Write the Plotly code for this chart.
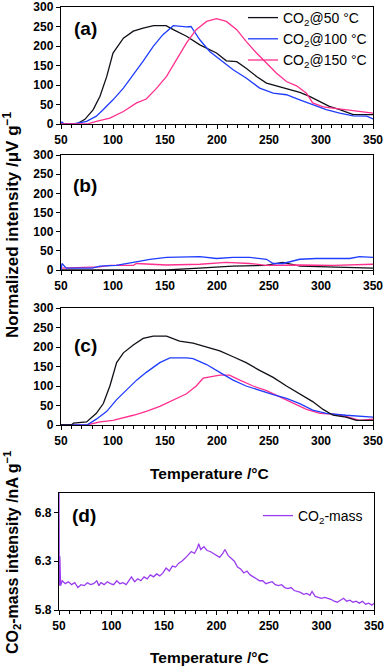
import plotly.graph_objects as go

# ---------------- data ----------------
# panel (a)
a50_t = [50, 65, 73, 81, 87.5, 94, 100, 102, 110, 119.5, 129, 139, 151, 158, 170.7, 183.5, 190, 199.5, 209, 219,
         228, 238, 247.6, 257, 270, 279.6, 289, 299, 308, 318, 331, 350]
a50_v = [0, 0, 12, 37, 71, 122, 182, 190, 220, 238, 246, 252, 252, 242, 225, 203, 195, 182, 162, 160,
         143, 122, 105, 98, 90, 81, 71, 58, 45, 37, 24, 24]
a100_t = [50, 51, 53, 62, 74.6, 84, 90.7, 100, 110, 119.5, 129, 138.7, 148, 158, 170.7, 175, 183.5, 193, 202.7, 215.5,
          228, 241, 254, 266.8, 279.6, 292, 305, 318, 331, 344, 350]
a100_v = [0, 5, 0, 0, 7, 20, 37, 62, 92, 126, 161, 199, 229, 252, 249, 250, 216, 186, 165, 139,
          118, 92, 79, 75, 62, 50, 37, 28, 21, 20, 13]
a150_t = [50, 75, 84, 97, 110, 122.7, 132, 142, 151.5, 161, 170.7, 180, 190, 199.5, 209, 219, 228, 238, 247.6, 257,
          266.8, 276.5, 286, 292, 302, 311.6, 324, 337, 350]
a150_v = [0, 0, 7, 15, 32, 54, 64, 92, 122, 165, 208, 242, 263, 270, 263, 242, 212, 182, 156, 131,
          109, 98, 79, 54, 44, 41, 37, 32, 28]

# panel (b)
b50_t = [50, 151.5, 183, 215, 247, 263, 280, 311, 350]
b50_v = [0, 0, 5, 10, 12, 20, 10, 8, 5]
b100_t = [50, 51, 55, 80, 87.5, 103, 119.5, 135.5, 151.5, 170.7, 183.5, 199.5, 215.5, 231.5, 247.6, 254, 263.5,
          279.6, 295.6, 311.6, 327.6, 337, 350]
b100_v = [0, 17, 5, 5, 10, 12, 20, 28, 33, 35, 35, 30, 33, 33, 28, 17, 17, 28, 30, 30, 30, 35, 33]
b150_t = [50, 87, 97, 119.5, 122.7, 151.5, 183.5, 209, 231.5, 247.6, 279.6, 311.6, 350]
b150_v = [5, 8, 12, 12, 17, 13, 15, 20, 17, 12, 13, 12, 15]

# panel (c)
c50_t = [50, 60, 62, 74.6, 84, 90.7, 97, 103.5, 110, 119.5, 129, 138.7, 151.5, 164, 177, 190, 202.7, 215.5, 228, 241,
         254, 266.8, 279.6, 292, 302, 311.6, 324, 334, 350]
c50_v = [0, 0, 5, 8, 30, 55, 100, 160, 185, 205, 222, 228, 228, 215, 210, 200, 190, 175, 160, 140,
         122, 100, 80, 60, 40, 25, 20, 12, 12]
c100_t = [50, 75, 84, 94, 103.5, 113, 122.7, 132, 145, 154.7, 170.7, 177, 190, 202.7, 215.5, 228, 241, 254, 266.8,
          279.6, 292, 305, 324, 340, 350]
c100_v = [0, 0, 15, 35, 65, 90, 115, 135, 160, 172, 172, 170, 155, 135, 115, 100, 90, 78, 68,
          55, 38, 30, 25, 22, 20]
c150_t = [50, 75, 87.5, 100, 119.5, 132, 145, 158, 170.7, 180, 186.7, 202.7, 212, 222, 234.7, 247.6, 260, 273, 286,
          299, 311.6, 324, 337, 350]
c150_v = [0, 0, 8, 12, 25, 35, 48, 65, 80, 100, 120, 128, 128, 115, 100, 88, 72, 55, 40,
          30, 28, 22, 12, 15]

# panel (d)
d_t = [50, 50.3, 50.8, 51.5, 53, 56, 59, 62, 65, 68, 71, 74, 77, 80, 83, 86, 88, 90, 93, 96, 99, 102, 105, 108, 111,
       114, 117, 119, 122, 125, 128, 131, 134, 137, 140, 143, 146, 149, 152, 155, 158, 161, 164, 167, 170, 173, 176,
       179, 182, 183, 185, 188, 191, 194, 197, 200, 203, 206, 208, 211, 214, 217, 220, 223, 226, 229, 232, 235, 238,
       241, 244, 247, 250, 253, 256, 259, 262, 265, 268, 271, 274, 277, 280, 283, 286, 289, 291, 294, 297, 300, 303,
       306, 309, 312, 315, 318, 321, 324, 327, 330, 333, 336, 339, 342, 345, 348, 350]
d_v = [7.0, 6.05, 6.35, 6.05, 6.1, 6.07, 6.09, 6.06, 6.08, 6.03, 6.06, 6.05, 6.08, 6.06, 6.07, 6.1, 6.05, 6.08, 6.06,
       6.09, 6.07, 6.06, 6.1, 6.07, 6.08, 6.06, 6.11, 6.14, 6.09, 6.12, 6.1, 6.14, 6.12, 6.16, 6.14, 6.17, 6.15, 6.18,
       6.23, 6.2, 6.25, 6.24, 6.28, 6.3, 6.33, 6.37, 6.4, 6.38, 6.44, 6.48, 6.42, 6.45, 6.41, 6.4, 6.38, 6.36, 6.34,
       6.38, 6.42, 6.36, 6.33, 6.3, 6.24, 6.22, 6.18, 6.2, 6.16, 6.14, 6.12, 6.1, 6.1, 6.07, 6.08, 6.09, 6.06, 6.05,
       6.06, 6.03, 6.02, 6.03, 6.0, 5.99, 5.98, 5.96, 5.97, 5.95, 5.99, 5.94, 5.93, 5.92, 5.93, 5.92, 5.91, 5.89, 5.88,
       5.9, 5.92, 5.89, 5.9, 5.88, 5.89, 5.87, 5.89, 5.86, 5.87, 5.85, 5.87]

series_names = ["CO<sub>2</sub>@50 °C", "CO<sub>2</sub>@100 °C", "CO<sub>2</sub>@150 °C"]
mass_name = "CO<sub>2</sub>-mass"
x_ticks = [50, 100, 150, 200, 250, 300, 350]
y_ticks_abc = [0, 50, 100, 150, 200, 250, 300]
y_ticks_d = [5.8, 6.3, 6.8]

# ---------------- styling ----------------
W, H = 387, 666
BLACK, BLUE, PINK, PURPLE = "#101018", "#1f3cff", "#ff2f8e", "#9a3cf0"
FONT = "Liberation Sans, Arial, sans-serif"
LW = 1.3

fig = go.Figure()

def add(t, v, color, xa, ya, name=None, show=False, legend="legend"):
    fig.add_trace(go.Scatter(x=t, y=v, mode="lines", line=dict(color=color, width=LW),
                             xaxis=xa, yaxis=ya, name=name, showlegend=show, legend=legend))

add(a50_t, a50_v, BLACK, "x", "y", series_names[0], True)
add(a100_t, a100_v, BLUE, "x", "y", series_names[1], True)
add(a150_t, a150_v, PINK, "x", "y", series_names[2], True)
add(b50_t, b50_v, BLACK, "x2", "y2")
add(b150_t, b150_v, PINK, "x2", "y2")
add(b100_t, b100_v, BLUE, "x2", "y2")
add(c150_t, c150_v, PINK, "x3", "y3")
add(c100_t, c100_v, BLUE, "x3", "y3")
add(c50_t, c50_v, BLACK, "x3", "y3")
add(d_t, d_v, PURPLE, "x4", "y4", mass_name, True, "legend2")

tickfont = dict(family=FONT, size=12, color="black", weight="bold")

def xax(l, r, anchor):
    return dict(domain=[l / W, r / W], anchor=anchor, range=[50, 350], tickvals=x_ticks,
                ticks="outside", ticklen=4, tickwidth=1, tickcolor="black", automargin=False,
                showline=True, linecolor="black", linewidth=1.4, mirror=True,
                showgrid=False, zeroline=False, tickfont=tickfont,
                minor=dict(tick0=50, dtick=10, ticks="outside", ticklen=3, tickcolor="black", showgrid=False))

def yax(top, bottom, anchor, rng, tv):
    return dict(domain=[1 - bottom / H, 1 - top / H], anchor=anchor, range=rng, tickvals=tv,
                ticks="outside", ticklen=4, tickwidth=1, tickcolor="black", automargin=False,
                showline=True, linecolor="black", linewidth=1.4, mirror=True,
                showgrid=False, zeroline=False, tickfont=tickfont)

fig.update_layout(
    width=W, height=H, margin=dict(l=0, r=0, t=0, b=0, autoexpand=False),
    paper_bgcolor="white", plot_bgcolor="white",
    font=dict(family=FONT, color="black"),
    xaxis=xax(61, 373, "y"), yaxis=yax(7, 124, "x", [0, 300], y_ticks_abc),
    xaxis2=xax(61, 373, "y2"), yaxis2=yax(155, 270, "x2", [0, 300], y_ticks_abc),
    xaxis3=xax(61, 373, "y3"), yaxis3=yax(308, 425, "x3", [0, 300], y_ticks_abc),
    xaxis4=xax(59, 374, "y4"), yaxis4=yax(493, 610, "x4", [5.8, 7.0], y_ticks_d),
    legend=dict(x=243 / W, y=1 - 2 / H, xanchor="left", yanchor="top", bgcolor="rgba(0,0,0,0)",
                font=dict(family=FONT, size=14, color="black"), tracegroupgap=0, itemwidth=30),
    legend2=dict(x=258 / W, y=1 - 500 / H, xanchor="left", yanchor="top", bgcolor="rgba(0,0,0,0)",
                 font=dict(family=FONT, size=14, color="black"), itemwidth=30),
)

ann = []
for lab, xc, yc in [("(a)", 85, 29), ("(b)", 85, 185), ("(c)", 85, 346), ("(d)", 84, 515)]:
    ann.append(dict(text="<b>%s</b>" % lab, x=xc / W, y=1 - yc / H, xref="paper", yref="paper",
                    showarrow=False, xanchor="center", yanchor="middle",
                    font=dict(family=FONT, size=19, color="black")))
for yc in (473, 657):
    ann.append(dict(text="<b>Temperature /°C</b>", x=209 / W, y=1 - yc / H, xref="paper", yref="paper",
                    showarrow=False, xanchor="center", yanchor="middle",
                    font=dict(family=FONT, size=15.5, color="black")))
ann.append(dict(text="<b>Normalized intensity /μV g<sup>−1</sup></b>", x=11 / W, y=1 - 225 / H,
                xref="paper", yref="paper", showarrow=False, textangle=-90,
                xanchor="center", yanchor="middle", font=dict(family=FONT, size=17, color="black")))
ann.append(dict(text="<b>CO<sub>2</sub>-mass intensity /nA g<sup>−1</sup></b>", x=12 / W, y=1 - 553 / H,
                xref="paper", yref="paper", showarrow=False, textangle=-90,
                xanchor="center", yanchor="middle", font=dict(family=FONT, size=16, color="black")))
fig.update_layout(annotations=ann)

fig.write_html("out.html", config={"displayModeBar": False},
               post_script="document.body.style.margin='0px';document.body.style.overflow='hidden';")
